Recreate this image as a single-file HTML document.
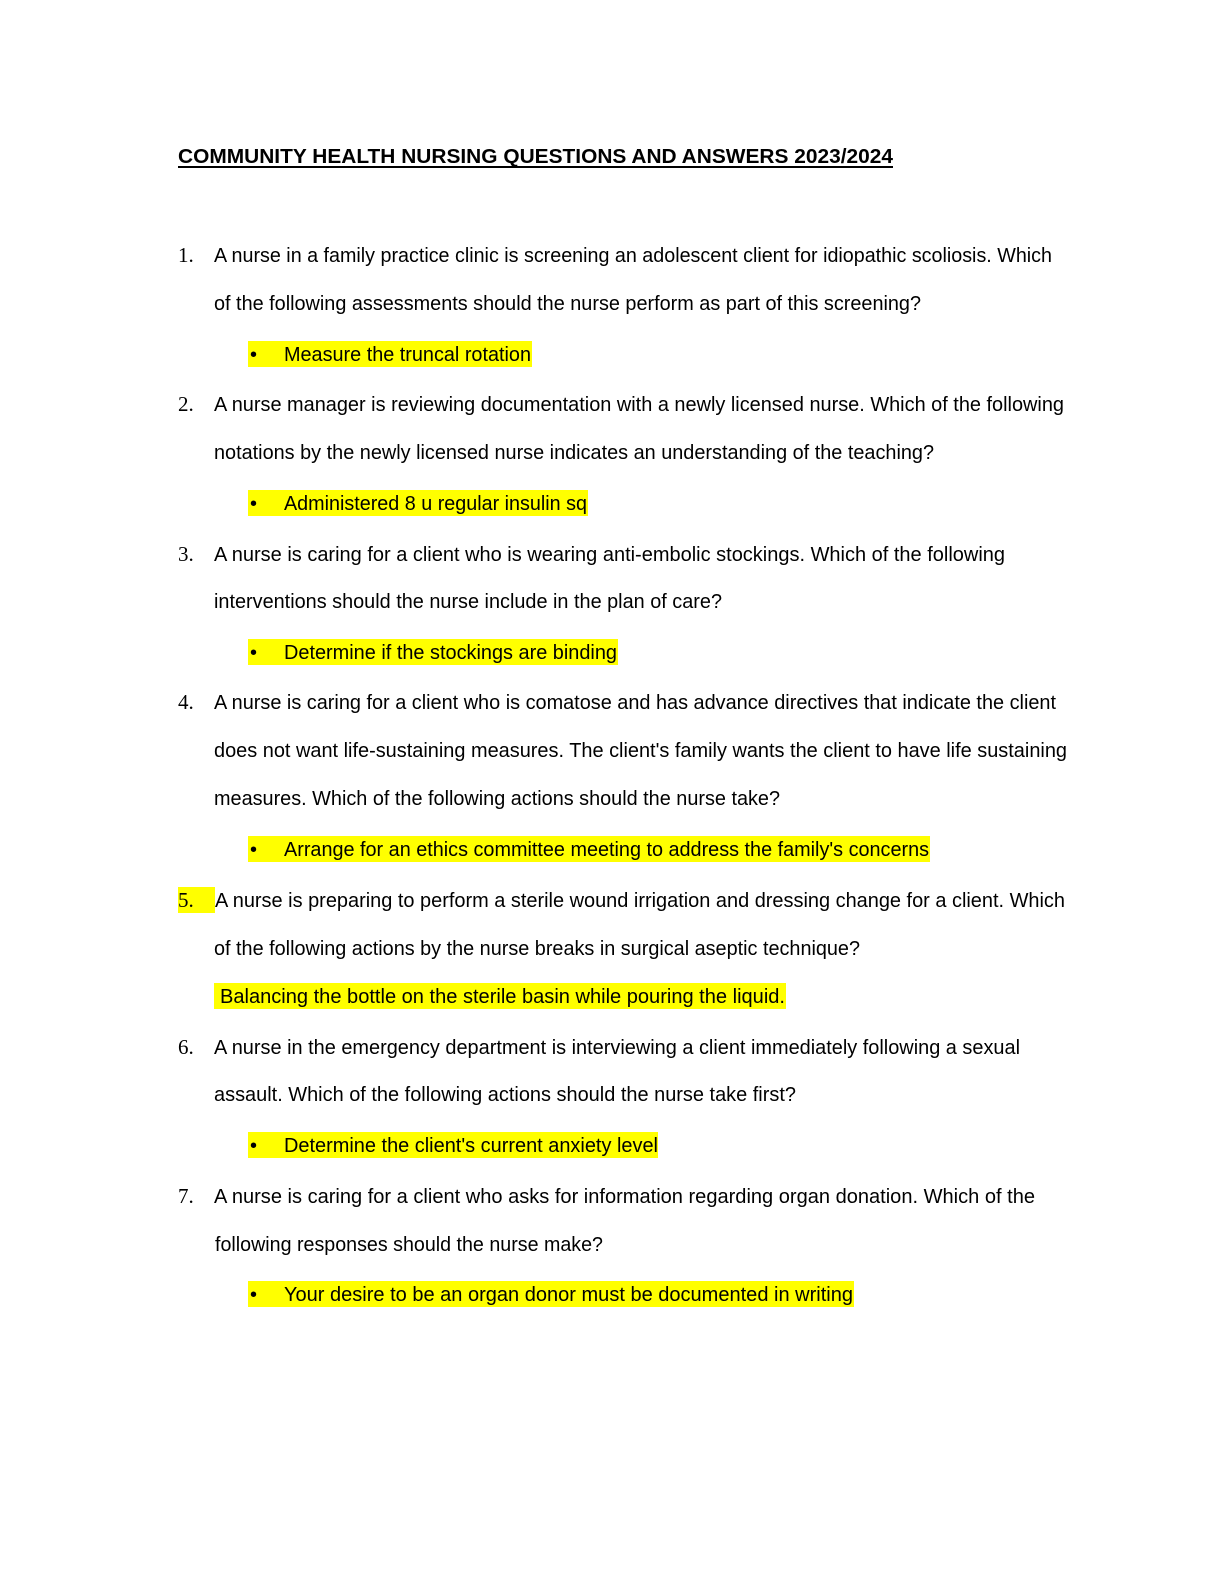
<!DOCTYPE html>
<html><head><meta charset="utf-8"><style>
html,body{margin:0;padding:0;background:#fff;}
svg{display:block}
.t{font-family:"Liberation Sans","DejaVu Sans",sans-serif;font-size:20px;fill:#000}
.n{font-family:"Liberation Serif",serif;font-size:21px;fill:#000}
.b{font-family:"Liberation Sans",sans-serif;font-size:20px;font-weight:bold;fill:#000}
</style></head><body>
<svg width="1224" height="1584" viewBox="0 0 1224 1584" xmlns="http://www.w3.org/2000/svg">
<g fill="#ffff00">
<rect x="248" y="341" width="284" height="26"/>
<rect x="248" y="490" width="340" height="26"/>
<rect x="248" y="639" width="370" height="26"/>
<rect x="248" y="836" width="682" height="26"/>
<rect x="178" y="887" width="37" height="26"/>
<rect x="214" y="983" width="572" height="26"/>
<rect x="248" y="1132" width="410" height="26"/>
<rect x="248" y="1281" width="606" height="26"/>
</g>
<text class="b" x="178" y="163" textLength="715" lengthAdjust="spacingAndGlyphs">COMMUNITY HEALTH NURSING QUESTIONS AND ANSWERS 2023/2024</text>
<rect x="178" y="166" width="715" height="2" fill="#000"/>

<text class="n" x="178" y="262">1.</text>
<text class="t" x="214" y="262" textLength="838" lengthAdjust="spacingAndGlyphs">A nurse in a family practice clinic is screening an adolescent client for idiopathic scoliosis. Which</text>
<text class="t" x="214" y="310" textLength="707" lengthAdjust="spacingAndGlyphs">of the following assessments should the nurse perform as part of this screening?</text>
<text class="t" x="250" y="361">•</text>
<text class="t" x="284" y="361" textLength="247" lengthAdjust="spacingAndGlyphs">Measure the truncal rotation</text>

<text class="n" x="178" y="411">2.</text>
<text class="t" x="214" y="411" textLength="850" lengthAdjust="spacingAndGlyphs">A nurse manager is reviewing documentation with a newly licensed nurse. Which of the following</text>
<text class="t" x="214" y="459" textLength="720" lengthAdjust="spacingAndGlyphs">notations by the newly licensed nurse indicates an understanding of the teaching?</text>
<text class="t" x="250" y="510">•</text>
<text class="t" x="284" y="510" textLength="303" lengthAdjust="spacingAndGlyphs">Administered 8 u regular insulin sq</text>

<text class="n" x="178" y="561">3.</text>
<text class="t" x="214" y="561" textLength="791" lengthAdjust="spacingAndGlyphs">A nurse is caring for a client who is wearing anti-embolic stockings. Which of the following</text>
<text class="t" x="214" y="608" textLength="508" lengthAdjust="spacingAndGlyphs">interventions should the nurse include in the plan of care?</text>
<text class="t" x="250" y="659">•</text>
<text class="t" x="284" y="659" textLength="333" lengthAdjust="spacingAndGlyphs">Determine if the stockings are binding</text>

<text class="n" x="178" y="709">4.</text>
<text class="t" x="214" y="709" textLength="842" lengthAdjust="spacingAndGlyphs">A nurse is caring for a client who is comatose and has advance directives that indicate the client</text>
<text class="t" x="214" y="757" textLength="853" lengthAdjust="spacingAndGlyphs">does not want life-sustaining measures. The client's family wants the client to have life sustaining</text>
<text class="t" x="214" y="805" textLength="566" lengthAdjust="spacingAndGlyphs">measures. Which of the following actions should the nurse take?</text>
<text class="t" x="250" y="856">•</text>
<text class="t" x="284" y="856" textLength="645" lengthAdjust="spacingAndGlyphs">Arrange for an ethics committee meeting to address the family's concerns</text>

<text class="n" x="178" y="907">5.</text>
<text class="t" x="215" y="907" textLength="850" lengthAdjust="spacingAndGlyphs">A nurse is preparing to perform a sterile wound irrigation and dressing change for a client. Which</text>
<text class="t" x="214" y="955" textLength="646" lengthAdjust="spacingAndGlyphs">of the following actions by the nurse breaks in surgical aseptic technique?</text>
<text class="t" x="220" y="1003" textLength="565" lengthAdjust="spacingAndGlyphs">Balancing the bottle on the sterile basin while pouring the liquid.</text>

<text class="n" x="178" y="1054">6.</text>
<text class="t" x="214" y="1054" textLength="806" lengthAdjust="spacingAndGlyphs">A nurse in the emergency department is interviewing a client immediately following a sexual</text>
<text class="t" x="214" y="1101" textLength="582" lengthAdjust="spacingAndGlyphs">assault. Which of the following actions should the nurse take first?</text>
<text class="t" x="250" y="1152">•</text>
<text class="t" x="284" y="1152" textLength="374" lengthAdjust="spacingAndGlyphs">Determine the client's current anxiety level</text>

<text class="n" x="178" y="1203">7.</text>
<text class="t" x="214" y="1203" textLength="821" lengthAdjust="spacingAndGlyphs">A nurse is caring for a client who asks for information regarding organ donation. Which of the</text>
<text class="t" x="215" y="1251" textLength="388" lengthAdjust="spacingAndGlyphs">following responses should the nurse make?</text>
<text class="t" x="250" y="1301">•</text>
<text class="t" x="284" y="1301" textLength="569" lengthAdjust="spacingAndGlyphs">Your desire to be an organ donor must be documented in writing</text>
</svg>
</body></html>
